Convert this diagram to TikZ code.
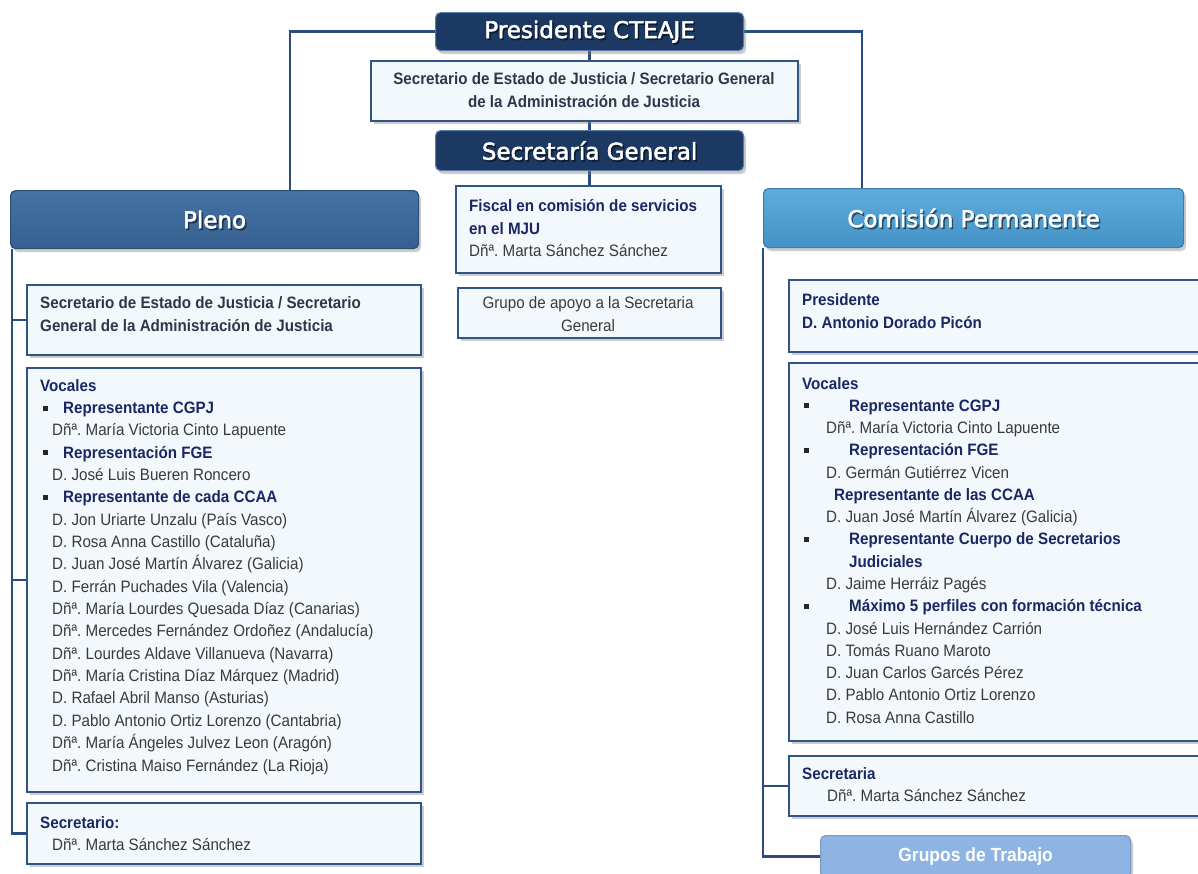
\documentclass[tikz,border=0pt]{standalone}
\usepackage{fontspec}
\setmainfont{Liberation Sans}[FakeStretch=0.92]
\newfontfamily\tit{DejaVu Sans}[FakeBold=2.2]
\usetikzlibrary{shadows,calc}
\definecolor{navy}{HTML}{1B3962}
\definecolor{navyL}{HTML}{5A7BA8}
\definecolor{plenoT}{HTML}{4672A4}
\definecolor{plenoB}{HTML}{35608F}
\definecolor{comiT}{HTML}{5DADDC}
\definecolor{comiB}{HTML}{4592C6}
\definecolor{grupC}{HTML}{8DB4E2}
\definecolor{lineC}{HTML}{2B4C7E}
\definecolor{bfill}{HTML}{F3F8FD}
\definecolor{bdr}{HTML}{2F5485}
\definecolor{hdc}{HTML}{1B2763}
\definecolor{nmc}{HTML}{3A3A3A}
\definecolor{sdc}{HTML}{2F3649}
\newcommand\bfont{\fontsize{16.5}{20}\selectfont}
\pgfdeclarelayer{bgw}
\pgfdeclarelayer{bg}
\pgfsetlayers{bgw,bg,main}
\tikzset{
  wbox/.style={draw=bdr, line width=2.2pt, fill=bfill, inner sep=0pt, anchor=north west,
    drop shadow={opacity=0.4, shadow xshift=2.5pt, shadow yshift=-3pt}},
  hdr/.style={rounded corners=5pt, inner sep=0pt, anchor=north west, line width=1.2pt,
    drop shadow={opacity=0.4, shadow xshift=2.5pt, shadow yshift=-3.5pt}},
  htxt/.style={inner sep=0pt, font=\tit\fontsize{23}{23}\selectfont, text=white},
  hsh/.style={inner sep=0pt, font=\tit\fontsize{23}{23}\selectfont, text=black, opacity=0.45},
  conn/.style={draw=lineC, line width=2.4pt},
  tn/.style={anchor=base west, inner sep=0pt, font=\bfont, text=nmc},
  tb/.style={anchor=base west, inner sep=0pt, font=\bfont\bfseries, text=hdc},
  bul/.style={fill=black!85, minimum size=5pt, inner sep=0pt},
}
\begin{document}
\frenchspacing
\begin{tikzpicture}[x=1pt,y=-1pt]
\useasboundingbox (0,0) rectangle (1198,873);
\begin{pgfonlayer}{bgw}
\fill[white] (0,0) rectangle (1198,873);
\end{pgfonlayer}

% top column
\node[hdr, fill=navy, draw=navyL, minimum width=308pt, minimum height=38pt] (pres) at (435,12) {};
\node[hsh] (presS) at ($(pres.center)+(1.5,1.8)$) {Presidente CTEAJE};
\node[htxt] (presT) at (pres.center) {Presidente CTEAJE};
\node[wbox, minimum width=427pt, minimum height=60pt] (sec1) at (370,60) {};
\node[tb, text=sdc, anchor=base] (sec1a) at (584,84) {Secretario de Estado de Justicia / Secretario General};
\node[tb, text=sdc, anchor=base] (sec1b) at (584,107) {de la Administración de Justicia};
\node[hdr, fill=navy, draw=navyL, minimum width=308pt, minimum height=40pt] (sg) at (435,130) {};
\node[hsh] (sgS) at ($(sg.center)+(1.5,1.8)$) {Secretaría General};
\node[htxt] (sgT) at (sg.center) {Secretaría General};
\node[wbox, minimum width=265pt, minimum height=87pt] (fis) at (455,185) {};
\node[tb] (fisa) at (469,211) {Fiscal en comisión de servicios};
\node[tb] (fisb) at (469,234) {en el MJU};
\node[tn] (fisc) at (469,256) {Dñª. Marta Sánchez Sánchez};
\node[wbox, minimum width=263pt, minimum height=50pt] (gap) at (457,287) {};
\node[tn, anchor=base] (gapa) at (588,308) {Grupo de apoyo a la Secretaria};
\node[tn, anchor=base] (gapb) at (588,331) {General};

% Pleno
\node[hdr, top color=plenoT, bottom color=plenoB, draw=plenoB!80!black, minimum width=408pt, minimum height=58pt] (pleno) at (10,190) {};
\node[hsh] (plenoS) at ($(pleno.center)+(1.5,1.8)$) {Pleno};
\node[htxt] (plenoT) at (pleno.center) {Pleno};
\node[wbox, minimum width=394pt, minimum height=70pt] (lb1) at (26,284) {};
\node[tb, text=sdc] (lb1a) at (40,308) {Secretario de Estado de Justicia / Secretario};
\node[tb, text=sdc] (lb1b) at (40,331) {General de la Administración de Justicia};
\node[wbox, minimum width=394pt, minimum height=424pt] (lb2) at (26,367) {};
\node[tb] (lv0) at (40,391) {Vocales};
\node[bul] (lq1) at (45.5,408) {};
\node[tb] (lv1) at (63,413.4) {Representante CGPJ};
\node[tn] (lv2) at (52,435.7) {Dñª. María Victoria Cinto Lapuente};
\node[bul] (lq2) at (45.5,452.5) {};
\node[tb] (lv3) at (63,458) {Representación FGE};
\node[tn] (lv4) at (52,480.4) {D. José Luis Bueren Roncero};
\node[bul] (lq3) at (45.5,497.3) {};
\node[tb] (lv5) at (63,502.8) {Representante de cada CCAA};
\node[tn] (lv6) at (52,525.1) {D. Jon Uriarte Unzalu (País Vasco)};
\node[tn] (lv7) at (52,547.5) {D. Rosa Anna Castillo (Cataluña)};
\node[tn] (lv8) at (52,569.8) {D. Juan José Martín Álvarez (Galicia)};
\node[tn] (lv9) at (52,592.2) {D. Ferrán Puchades Vila (Valencia)};
\node[tn] (lv10) at (52,614.5) {Dñª. María Lourdes Quesada Díaz (Canarias)};
\node[tn] (lv11) at (52,636.9) {Dñª. Mercedes Fernández Ordoñez (Andalucía)};
\node[tn] (lv12) at (52,659.2) {Dñª. Lourdes Aldave Villanueva (Navarra)};
\node[tn] (lv13) at (52,681.6) {Dñª. María Cristina Díaz Márquez (Madrid)};
\node[tn] (lv14) at (52,703.9) {D. Rafael Abril Manso (Asturias)};
\node[tn] (lv15) at (52,726.3) {D. Pablo Antonio Ortiz Lorenzo (Cantabria)};
\node[tn] (lv16) at (52,748.6) {Dñª. María Ángeles Julvez Leon (Aragón)};
\node[tn] (lv17) at (52,771) {Dñª. Cristina Maiso Fernández (La Rioja)};
\node[wbox, minimum width=394pt, minimum height=61pt] (lb3) at (26,802) {};
\node[tb] (lb3a) at (40,828) {Secretario:};
\node[tn] (lb3b) at (52,850) {Dñª. Marta Sánchez Sánchez};

% Comision
\node[hdr, top color=comiT, bottom color=comiB, draw=comiB!85!black, minimum width=420pt, minimum height=59pt] (comi) at (763,188) {};
\node[hsh] (comiS) at ($(comi.center)+(1.5,1.8)$) {Comisión Permanente};
\node[htxt] (comiT) at (comi.center) {Comisión Permanente};
\node[wbox, minimum width=430pt, minimum height=72pt] (rb1) at (788,279) {};
\node[tb] (rb1a) at (802,305) {Presidente};
\node[tb] (rb1b) at (802,328) {D. Antonio Dorado Picón};
\node[wbox, minimum width=430pt, minimum height=378pt] (rb2) at (788,362) {};
\node[tb] (rv0) at (802,389) {Vocales};
\node[bul] (rq1) at (806,405.8) {};
\node[tb] (rv1) at (849,411.3) {Representante CGPJ};
\node[tn] (rv2) at (826,433.5) {Dñª. María Victoria Cinto Lapuente};
\node[bul] (rq2) at (806,450.3) {};
\node[tb] (rv3) at (849,455.8) {Representación FGE};
\node[tn] (rv4) at (826,478.1) {D. Germán Gutiérrez Vicen};
\node[tb] (rv5) at (834,500.4) {Representante de las CCAA};
\node[tn] (rv6) at (826,522.6) {D. Juan José Martín Álvarez (Galicia)};
\node[bul] (rq3) at (806,539.4) {};
\node[tb] (rv7) at (849,544.9) {Representante Cuerpo de Secretarios};
\node[tb] (rv8) at (849,567.2) {Judiciales};
\node[tn] (rv9) at (826,589.4) {D. Jaime Herráiz Pagés};
\node[bul] (rq4) at (806,606.2) {};
\node[tb] (rv10) at (849,611.7) {Máximo 5 perfiles con formación técnica};
\node[tn] (rv11) at (826,634) {D. José Luis Hernández Carrión};
\node[tn] (rv12) at (826,656.2) {D. Tomás Ruano Maroto};
\node[tn] (rv13) at (826,678.5) {D. Juan Carlos Garcés Pérez};
\node[tn] (rv14) at (826,700.8) {D. Pablo Antonio Ortiz Lorenzo};
\node[tn] (rv15) at (826,723) {D. Rosa Anna Castillo};
\node[wbox, minimum width=430pt, minimum height=60pt] (rb3) at (788,755) {};
\node[tb] (rb3a) at (802,779) {Secretaria};
\node[tn] (rb3b) at (827,801) {Dñª. Marta Sánchez Sánchez};
\node[hdr, fill=grupC, draw=grupC!85!black, minimum width=310pt, minimum height=42pt,
  font=\fontsize{19}{19}\selectfont\bfseries, text=white] (grp) at (820,835) {Grupos de Trabajo};

% connectors
\coordinate (lj) at (290,0);
\coordinate (rj) at (862,0);
\coordinate (ls) at (12,0);
\coordinate (rs) at (763,0);
\begin{pgfonlayer}{bg}
\draw[conn] (pres.west) -| (lj |- pleno.north);
\draw[conn] (pres.east) -| (rj |- comi.north);
\draw[conn] (pres.south) -- (pres.south |- sec1.north);
\draw[conn] (sg.north |- sec1.south) -- (sg.north);
\draw[conn] (sg.south) -- (sg.south |- fis.north);
\draw[conn] (ls |- pleno.south) -- (ls |- lb3.west) -- (lb3.west);
\draw[conn] (ls |- lb1.west) -- (lb1.west);
\draw[conn] (ls |- lb2.west) -- (lb2.west);
\draw[conn] (rs |- comi.south) -- (rs |- grp.west) -- (grp.west);
\draw[conn] (rs |- rb3.west) -- (rb3.west);
\end{pgfonlayer}
\end{tikzpicture}
\end{document}
